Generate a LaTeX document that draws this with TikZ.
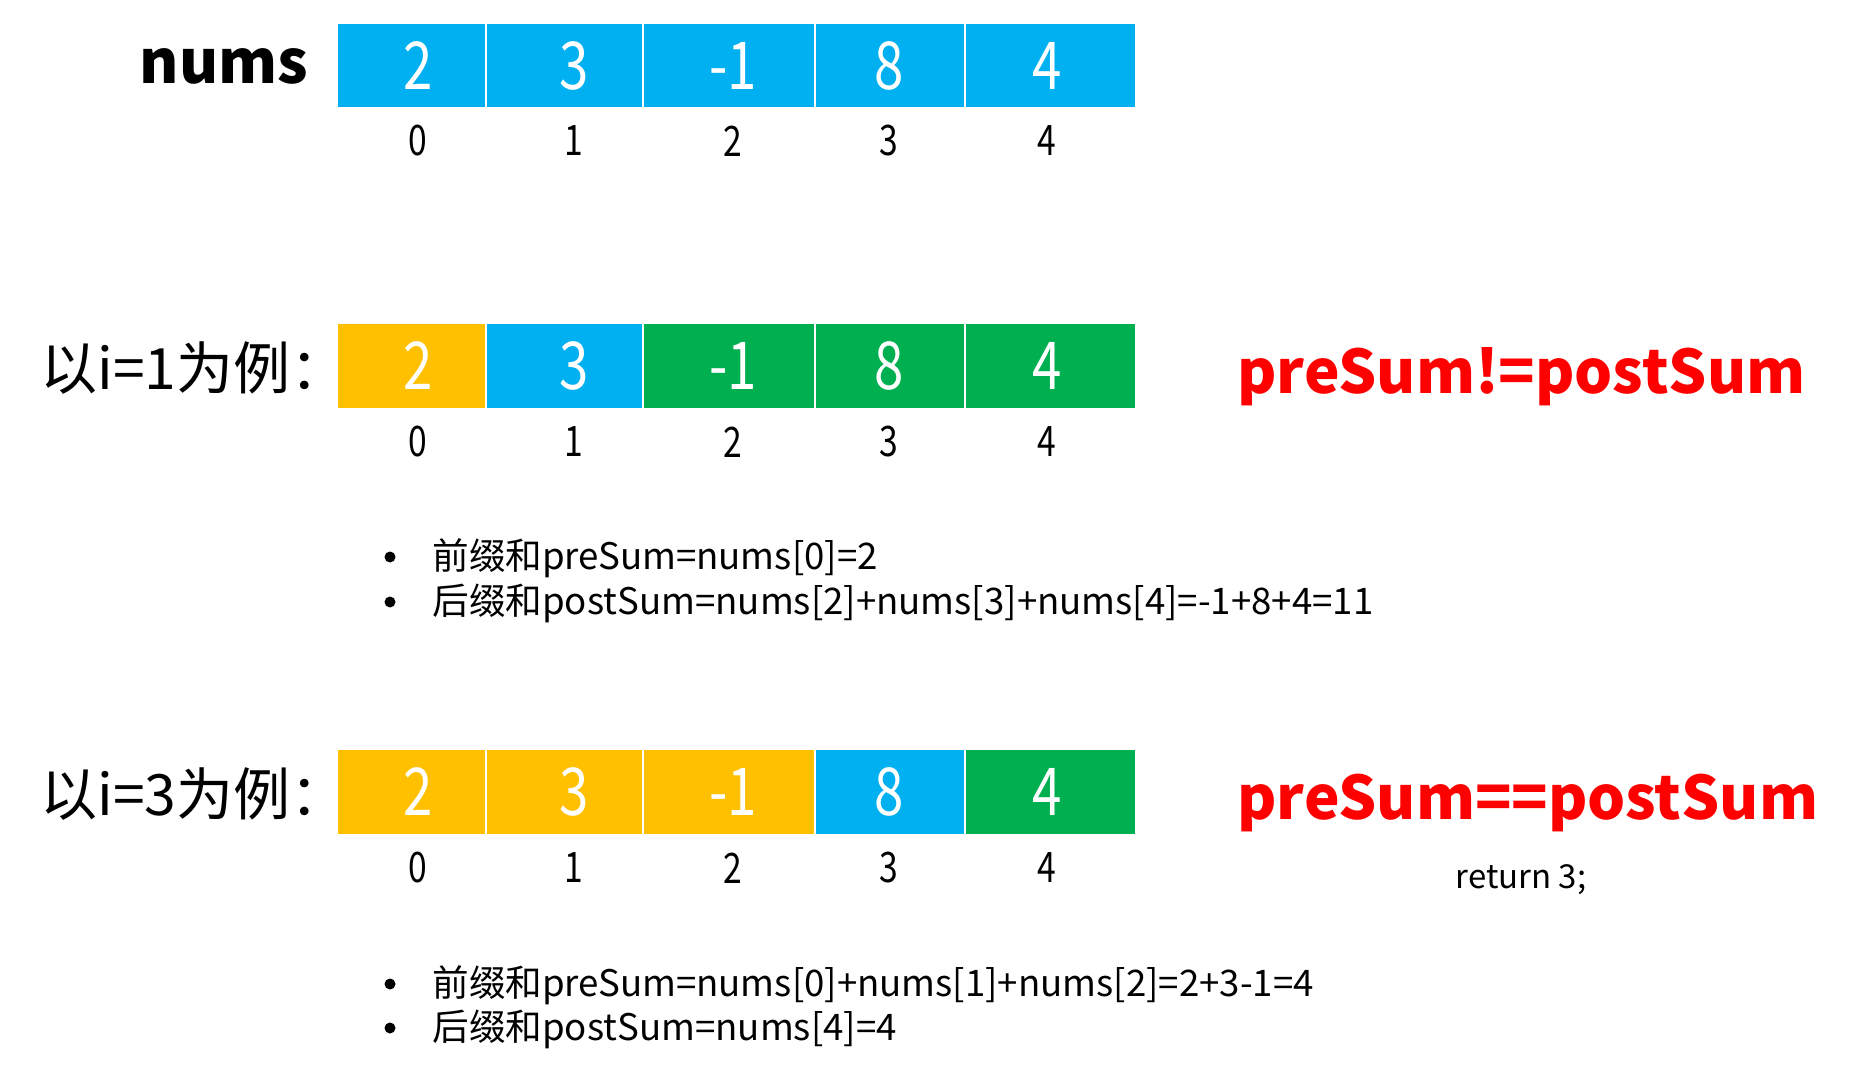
\documentclass[tikz,border=0pt]{standalone}
\usepackage{fontspec}
\setmainfont{Noto Sans CJK SC}
\newfontfamily\narrowfont{Noto Sans CJK SC}[FakeStretch=0.8]
\definecolor{cellblue}{HTML}{00B0F0}
\definecolor{cellorange}{HTML}{FFC000}
\definecolor{cellgreen}{HTML}{00B050}
\definecolor{sumred}{HTML}{FF0000}

\begin{document}
\begin{tikzpicture}[x=0.5pt,y=-0.5pt]

    \tikzset{
      cell/.style={draw=white, line width=1pt},
      val/.style={text=white, inner sep=0pt, font=\narrowfont\fontsize{33}{33}\selectfont},
      idx/.style={inner sep=0pt, font=\narrowfont\fontsize{21}{21}\selectfont},
      rowlabel/.style={anchor=west, inner sep=0pt, font=\fontsize{28.5}{28.5}\selectfont},
      verdict/.style={anchor=west, inner sep=0pt, text=sumred, font=\bfseries\fontsize{30}{30}\selectfont},
      dot/.style={circle, fill=black, inner sep=0pt, minimum size=5.5pt},
      note/.style={anchor=west, inner sep=0pt, font=\fontsize{18.3}{18.3}\selectfont},
    }
    \useasboundingbox (0,0) rectangle (1872,1074);

    % nums
    \node[inner sep=0pt, font=\bfseries\fontsize{30}{30}\selectfont] (nums) at (224,66) {nums};
    \foreach \l/\r/\m/\v/\c [count=\i from 0] in {337/486/418/2/cellblue, 486/643/574/3/cellblue, 643/815/733/-1/cellblue, 815/965/889/8/cellblue, 965/1136/1047/4/cellblue}{
      \path[cell, fill=\c] (\l,23) rectangle (\r,108);
      \node[val] (a-\i) at (\m,65.5) {\v};
      \node[idx] (ai-\i) at (\m,141) {\i};
    }

    % i = 1
    \node[rowlabel] (lab1) at (40,368) {以i=1为例：};
    \foreach \l/\r/\m/\v/\c [count=\i from 0] in {337/486/418/2/cellorange, 486/643/574/3/cellblue, 643/815/733/-1/cellgreen, 815/965/889/8/cellgreen, 965/1136/1047/4/cellgreen}{
      \path[cell, fill=\c] (\l,323) rectangle (\r,409);
      \node[val] (b-\i) at (\m,366) {\v};
      \node[idx] (bi-\i) at (\m,442) {\i};
    }
    \node[verdict] (ne) at (1237,377) {preSum!=postSum};
    \node[dot] (d1) at (390,557) {};
    \node[note] (t1) at (432,558) {前缀和preSum=nums[0]=2};
    \node[dot] (d2) at (390,602) {};
    \node[note] (t2) at (432,603) {后缀和postSum=nums[2]+nums[3]+nums[4]=-1+8+4=11};

    % i = 3
    \node[rowlabel] (lab3) at (40,794) {以i=3为例：};
    \foreach \l/\r/\m/\v/\c [count=\i from 0] in {337/486/418/2/cellorange, 486/643/574/3/cellorange, 643/815/733/-1/cellorange, 815/965/889/8/cellblue, 965/1136/1047/4/cellgreen}{
      \path[cell, fill=\c] (\l,749) rectangle (\r,835);
      \node[val] (c-\i) at (\m,792) {\v};
      \node[idx] (ci-\i) at (\m,868) {\i};
    }
    \node[verdict] (eq) at (1237,803) {preSum==postSum};
    \node[inner sep=0pt, font=\fontsize{16.5}{16.5}\selectfont] (ret) at (1521,880) {return 3;};
    \node[dot] (d3) at (390,984) {};
    \node[note] (t3) at (432,985) {前缀和preSum=nums[0]+nums[1]+nums[2]=2+3-1=4};
    \node[dot] (d4) at (390,1028) {};
    \node[note] (t4) at (432,1029) {后缀和postSum=nums[4]=4};

\end{tikzpicture}
\end{document}
